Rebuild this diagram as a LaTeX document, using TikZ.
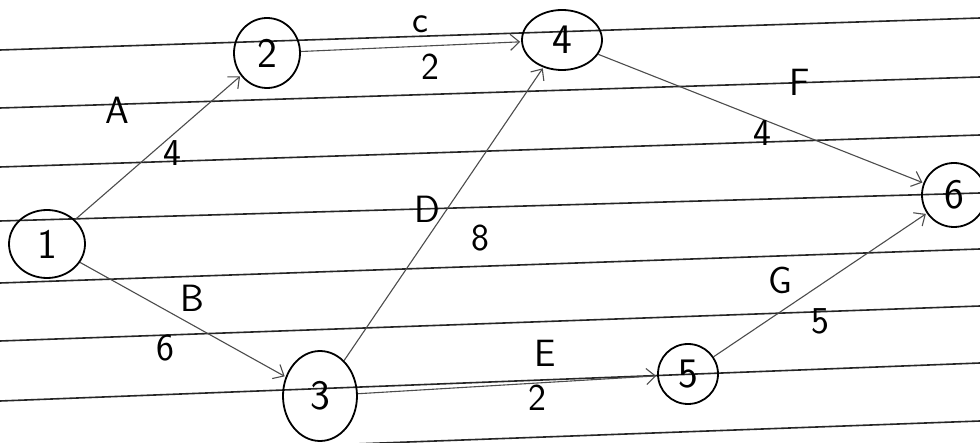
\documentclass[tikz,border=0pt]{standalone}
\usetikzlibrary{shapes.geometric,arrows.meta}
\begin{document}
\begin{tikzpicture}[x=1pt,y=-1pt,
  rule/.style={line width=1.6pt,black!85},
  ev/.style={draw,ellipse,line width=1.8pt,inner sep=0pt,font=\sffamily\fontsize{42}{44}\selectfont},
  act/.style={line width=1.1pt,black!70,-{Straight Barb[length=9pt,width=16pt,line width=1.1pt]},shorten >=1pt},
  lab/.style={font=\sffamily\fontsize{38}{40}\selectfont,inner sep=0pt}]
\useasboundingbox (0,0) rectangle (980,443);
\fill[white] (0,0) rectangle (980,443);
% ruled paper lines
\draw[rule] (0,50) -- (980,18);
\draw[rule] (0,108) -- (980,77);
\draw[rule] (0,167) -- (980,135);
\draw[rule] (0,221) -- (980,193);
\draw[rule] (0,283) -- (980,249);
\draw[rule] (0,341) -- (980,306);
\draw[rule] (0,401) -- (980,363);
\draw[rule] (0,457) -- (980,421);
% events
\node[ev,minimum width=76pt,minimum height=68pt] (n1) at (47,244) {1};
\node[ev,minimum width=66pt,minimum height=70pt] (n2) at (267,53) {2};
\node[ev,minimum width=74pt,minimum height=90pt] (n3) at (320,396) {3};
\node[ev,minimum width=80pt,minimum height=60pt] (n4) at (562,40) {4};
\node[ev,minimum width=60pt,minimum height=60pt] (n5) at (688,374) {5};
\node[ev,minimum width=64pt,minimum height=64pt] (n6) at (954,195) {6};
% activities
\draw[act] (n1) -- (n2);
\draw[act] (n2) -- (n4);
\draw[act] (n4) -- (n6);
\draw[act] (n1) -- (n3);
\draw[act] (n3) -- (n4);
\draw[act] (n3) -- (n5);
\draw[act] (n5) -- (n6);
% labels
\node[lab] (lA) at (117,110) {A};
\node[lab] (wA) at (172,153) {4};
\node[lab] (lC) at (420,24) {c};
\node[lab] (wC) at (430,67) {2};
\node[lab] (lF) at (800,82) {F};
\node[lab] (wF) at (762,133) {4};
\node[lab] (lD) at (427,209) {D};
\node[lab] (wD) at (480,238) {8};
\node[lab] (lB) at (192,298) {B};
\node[lab] (wB) at (165,348) {6};
\node[lab] (lE) at (545,353) {E};
\node[lab] (wE) at (537,398) {2};
\node[lab] (lG) at (780,280) {G};
\node[lab] (wG) at (820,321) {5};
\end{tikzpicture}
\end{document}
